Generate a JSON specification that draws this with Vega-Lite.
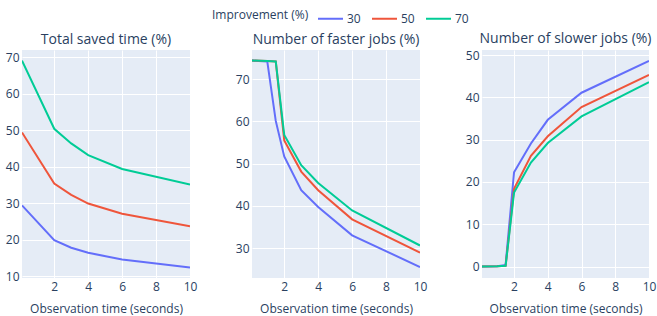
{
  "$schema": "https://vega.github.io/schema/vega-lite/v6.json",
  "padding": {"left": 5, "top": 5, "right": 5, "bottom": 5},
  "background": "white",
  "datasets": {
    "saved": [
      {"x": 0.1, "imp": "30", "v": 29.4}, {"x": 2, "imp": "30", "v": 19.9}, {"x": 3, "imp": "30", "v": 17.8}, {"x": 4, "imp": "30", "v": 16.4}, {"x": 6, "imp": "30", "v": 14.6}, {"x": 10, "imp": "30", "v": 12.4},
      {"x": 0.1, "imp": "50", "v": 49.4}, {"x": 2, "imp": "50", "v": 35.4}, {"x": 3, "imp": "50", "v": 32.3}, {"x": 4, "imp": "50", "v": 29.9}, {"x": 6, "imp": "50", "v": 27.1}, {"x": 10, "imp": "50", "v": 23.7},
      {"x": 0.1, "imp": "70", "v": 69.1}, {"x": 2, "imp": "70", "v": 50.4}, {"x": 3, "imp": "70", "v": 46.4}, {"x": 4, "imp": "70", "v": 43.2}, {"x": 6, "imp": "70", "v": 39.4}, {"x": 10, "imp": "70", "v": 35.1}
    ],
    "faster": [
      {"x": 0.1, "imp": "30", "v": 74.4}, {"x": 1, "imp": "30", "v": 74.2}, {"x": 1.5, "imp": "30", "v": 60.1}, {"x": 2, "imp": "30", "v": 51.7}, {"x": 3, "imp": "30", "v": 43.7}, {"x": 4, "imp": "30", "v": 39.7}, {"x": 6, "imp": "30", "v": 33.0}, {"x": 10, "imp": "30", "v": 25.5},
      {"x": 0.1, "imp": "50", "v": 74.4}, {"x": 1, "imp": "50", "v": 74.3}, {"x": 1.5, "imp": "50", "v": 74.2}, {"x": 2, "imp": "50", "v": 55.5}, {"x": 3, "imp": "50", "v": 48.1}, {"x": 4, "imp": "50", "v": 43.7}, {"x": 6, "imp": "50", "v": 36.8}, {"x": 10, "imp": "50", "v": 28.9},
      {"x": 0.1, "imp": "70", "v": 74.4}, {"x": 1, "imp": "70", "v": 74.3}, {"x": 1.5, "imp": "70", "v": 74.2}, {"x": 2, "imp": "70", "v": 56.8}, {"x": 3, "imp": "70", "v": 49.6}, {"x": 4, "imp": "70", "v": 45.4}, {"x": 6, "imp": "70", "v": 38.9}, {"x": 10, "imp": "70", "v": 30.6}
    ],
    "slower": [
      {"x": 0.1, "imp": "30", "v": 0.0}, {"x": 1, "imp": "30", "v": 0.1}, {"x": 1.5, "imp": "30", "v": 0.4}, {"x": 2, "imp": "30", "v": 22.3}, {"x": 3, "imp": "30", "v": 29.1}, {"x": 4, "imp": "30", "v": 34.7}, {"x": 6, "imp": "30", "v": 41.1}, {"x": 10, "imp": "30", "v": 48.6},
      {"x": 0.1, "imp": "50", "v": 0.0}, {"x": 1, "imp": "50", "v": 0.1}, {"x": 1.5, "imp": "50", "v": 0.2}, {"x": 2, "imp": "50", "v": 18.4}, {"x": 3, "imp": "50", "v": 26.2}, {"x": 4, "imp": "50", "v": 30.8}, {"x": 6, "imp": "50", "v": 37.7}, {"x": 10, "imp": "50", "v": 45.3},
      {"x": 0.1, "imp": "70", "v": 0.0}, {"x": 1, "imp": "70", "v": 0.1}, {"x": 1.5, "imp": "70", "v": 0.2}, {"x": 2, "imp": "70", "v": 17.5}, {"x": 3, "imp": "70", "v": 24.6}, {"x": 4, "imp": "70", "v": 29.2}, {"x": 6, "imp": "70", "v": 35.5}, {"x": 10, "imp": "70", "v": 43.6}
    ]
  },
  "bounds": "flush",
  "spacing": 62,
  "hconcat": [
    {
      "width": 168, "height": 228,
      "data": {"name": "saved"},
      "title": "Total saved time (%)",
      "mark": {"type": "line", "strokeWidth": 2, "clip": true},
      "encoding": {
        "x": {"field": "x", "type": "quantitative", "scale": {"domain": [0.1, 10], "nice": false, "zero": false}, "axis": {"values": [2, 4, 6, 8, 10], "title": "Observation time (seconds)"}},
        "y": {"field": "v", "type": "quantitative", "scale": {"domain": [9.5, 72], "nice": false, "zero": false}, "axis": {"values": [10, 20, 30, 40, 50, 60, 70], "title": null}},
        "color": {"field": "imp", "type": "nominal", "title": "Improvement (%)", "scale": {"domain": ["30", "50", "70"], "range": ["#636efa", "#EF553B", "#00cc96"]}}
      }
    },
    {
      "width": 168, "height": 228,
      "data": {"name": "faster"},
      "title": "Number of faster jobs (%)",
      "mark": {"type": "line", "strokeWidth": 2, "clip": true},
      "encoding": {
        "x": {"field": "x", "type": "quantitative", "scale": {"domain": [0.1, 10], "nice": false, "zero": false}, "axis": {"values": [2, 4, 6, 8, 10], "title": "Observation time (seconds)"}},
        "y": {"field": "v", "type": "quantitative", "scale": {"domain": [22.9, 76.9], "nice": false, "zero": false}, "axis": {"values": [30, 40, 50, 60, 70], "title": null}},
        "color": {"field": "imp", "type": "nominal", "title": "Improvement (%)", "scale": {"domain": ["30", "50", "70"], "range": ["#636efa", "#EF553B", "#00cc96"]}}
      }
    },
    {
      "width": 167, "height": 228,
      "data": {"name": "slower"},
      "title": "Number of slower jobs (%)",
      "mark": {"type": "line", "strokeWidth": 2, "clip": true},
      "encoding": {
        "x": {"field": "x", "type": "quantitative", "scale": {"domain": [0.1, 10], "nice": false, "zero": false}, "axis": {"values": [2, 4, 6, 8, 10], "title": "Observation time (seconds)"}},
        "y": {"field": "v", "type": "quantitative", "scale": {"domain": [-2.7, 51.2], "nice": false, "zero": false}, "axis": {"values": [0, 10, 20, 30, 40, 50], "title": null}},
        "color": {"field": "imp", "type": "nominal", "title": "Improvement (%)", "scale": {"domain": ["30", "50", "70"], "range": ["#636efa", "#EF553B", "#00cc96"]}}
      }
    }
  ],
  "resolve": {"scale": {"y": "independent", "x": "independent"}},
  "config": {
    "font": "Open Sans",
    "view": {"fill": "#E5ECF6", "stroke": null},
    "axis": {"grid": true, "gridColor": "white", "gridWidth": 1, "domain": false, "ticks": false, "labelColor": "#2a3f5f", "labelFont": "Open Sans", "labelFontSize": 12, "titleColor": "#2a3f5f", "titleFont": "Open Sans", "titleFontWeight": "normal", "titleFontSize": 12, "labelPadding": 3, "labelFlush": false, "labelOverlap": false, "titlePadding": 11},
    "title": {"fontSize": 14, "fontWeight": "normal", "color": "#2a3f5f", "font": "Open Sans", "offset": 3, "anchor": "middle"},
    "legend": {"orient": "none", "legendX": 190, "legendY": -45, "direction": "horizontal", "titleOrient": "left", "titleColor": "#2a3f5f", "titleFontWeight": "normal", "titleFontSize": 12, "titleFont": "Open Sans", "labelColor": "#2a3f5f", "labelFontSize": 12, "labelFont": "Open Sans", "symbolType": "stroke", "symbolSize": 625, "symbolStrokeWidth": 2, "labelOffset": 3, "columnPadding": 7, "titlePadding": 8}
  }
}
